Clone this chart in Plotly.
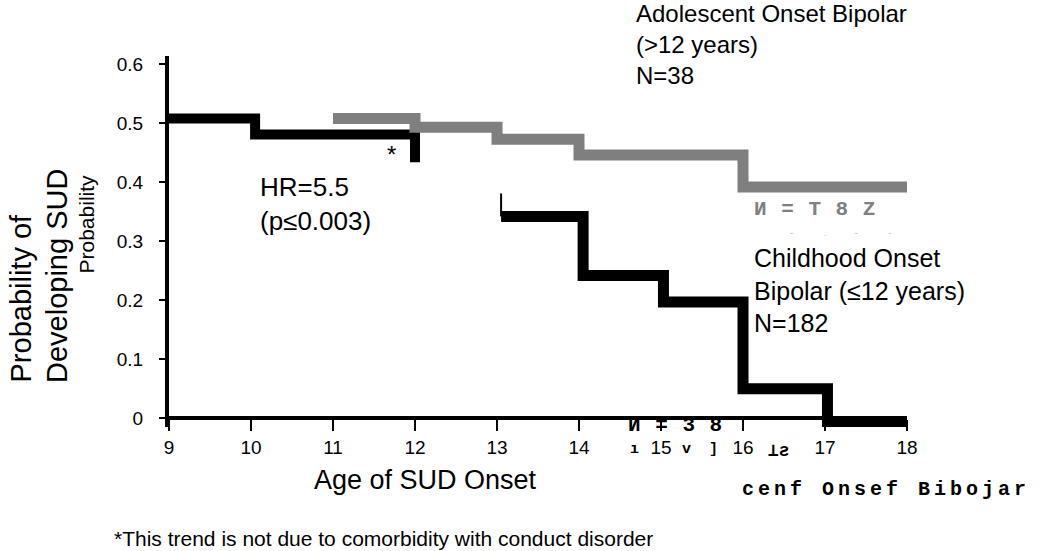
import plotly.graph_objects as go

# data (step curves)
early_age = [9, 10.05, 12]
early_prob = [0.508, 0.481, 0.434]

adol_age = [11, 12, 13, 14, 16, 18]
adol_prob = [0.508, 0.493, 0.473, 0.446, 0.392, 0.392]

child_age = [13.05, 14.05, 15.03, 16, 17.03, 18]
child_prob = [0.342, 0.242, 0.197, 0.05, -0.01, -0.01]

# thin censoring tick at the start of the childhood curve
tick_age = [13.05, 13.05]
tick_prob = [0.381, 0.342]

x_ticks = [9, 10, 11, 12, 13, 14, 15, 16, 17, 18]
y_ticks = [0, 0.1, 0.2, 0.3, 0.4, 0.5, 0.6]
y_ticktext = ["0", "0.1", "0.2", "0.3", "0.4", "0.5", "0.6"]

FONT = "Liberation Sans, Arial, sans-serif"
MONO = "Liberation Mono, Courier New, monospace"

W, H = 1050, 551
L, R, T, B = 169, 143, 56, 124
y_lo, y_hi = -0.015, 0.614


def px(x, y):
    # pixel position on the page -> paper coords
    return (x - L) / (W - L - R), (H - B - y) / (H - B - T)


def spaced(s, gap):
    return "<span style='letter-spacing:%spx'><b>%s</b></span>" % (gap, s)


fig = go.Figure()
line_kw = dict(mode="lines", line_shape="hv", hoverinfo="skip", showlegend=False)
fig.add_trace(go.Scatter(x=early_age, y=early_prob, line=dict(color="black", width=10), **line_kw))
fig.add_trace(go.Scatter(x=adol_age, y=adol_prob, line=dict(color="#7f7f7f", width=11), **line_kw))
fig.add_trace(go.Scatter(x=child_age, y=child_prob, line=dict(color="black", width=11), **line_kw))
fig.add_trace(go.Scatter(x=tick_age, y=tick_prob, line=dict(color="black", width=2), **line_kw))

notes = [
    ("Adolescent Onset Bipolar<br>(>12 years)<br>N=38", 634, 44, 24, FONT, "black"),
    ("Childhood Onset<br>Bipolar (≤12 years)<br>N=182", 752, 290, 25, FONT, "black"),
    ("HR=5.5<br>(p≤0.003)", 258, 204, 26, FONT, "black"),
    ("*", 385, 154, 24, FONT, "black"),
    ("*This trend is not due to comorbidity with conduct disorder", 112, 538, 21, FONT, "black"),
    ("Age of SUD Onset", 312, 480, 27, FONT, "black"),
    (spaced("И = T 8 Z", 1), 752, 209, 21, MONO, "#808080"),
    ("-           .          -           -", 788, 232, 10, FONT, "#c8c8c8"),
    (spaced("И = 3 8", 1), 626, 425, 21, MONO, "black"),
    ("<b>ı</b>", 628, 449, 15, MONO, "black"),
    ("<b>v  ]</b>", 680, 449, 15, MONO, "black"),
    ("<b>⊥ƨ</b>", 766, 451, 18, MONO, "black"),
    (spaced("cenf Onsef Bibojar", 4), 740, 489, 20, MONO, "black"),
]
for text, x, y, size, fam, col in notes:
    xp, yp = px(x, y)
    fig.add_annotation(text=text, x=xp, y=yp, xref="paper", yref="paper",
                       xanchor="left", yanchor="middle", align="left", showarrow=False,
                       font=dict(size=size, family=fam, color=col))

# rotated y titles
for text, x, y, size in [("Probability of", 20, 385, 29), ("Developing SUD", 57, 385, 29),
                         ("Probability", 86, 276, 21)]:
    xp, yp = px(x, y)
    fig.add_annotation(text=text, x=xp, y=yp, xref="paper", yref="paper",
                       xanchor="center", yanchor="bottom", textangle=-90, showarrow=False,
                       font=dict(size=size, family=FONT, color="black"))

fig.update_layout(
    width=W, height=H,
    margin=dict(l=L, r=R, t=T, b=B),
    plot_bgcolor="white", paper_bgcolor="white",
    font=dict(family=FONT, color="black"),
    xaxis=dict(range=[9, 18], tickvals=x_ticks, ticks="outside", ticklen=11, tickwidth=1.5,
               tickcolor="black", showline=True, linewidth=4, linecolor="black",
               showgrid=False, zeroline=False, anchor="free",
               position=(0 - y_lo) / (y_hi - y_lo), ticklabelstandoff=0,
               tickfont=dict(size=19)),
    yaxis=dict(range=[y_lo, y_hi], tickvals=y_ticks, ticktext=y_ticktext, ticks="outside",
               ticklen=6, tickwidth=1.5, tickcolor="black", showline=True, linewidth=4,
               linecolor="black", showgrid=False, zeroline=False, ticklabelstandoff=12,
               tickfont=dict(size=19)),
)

# page has a default 8px body margin; drop it so the figure fills the window
fig.write_html("out.html", config={"displayModeBar": False},
               post_script="document.body.style.margin='0';")
